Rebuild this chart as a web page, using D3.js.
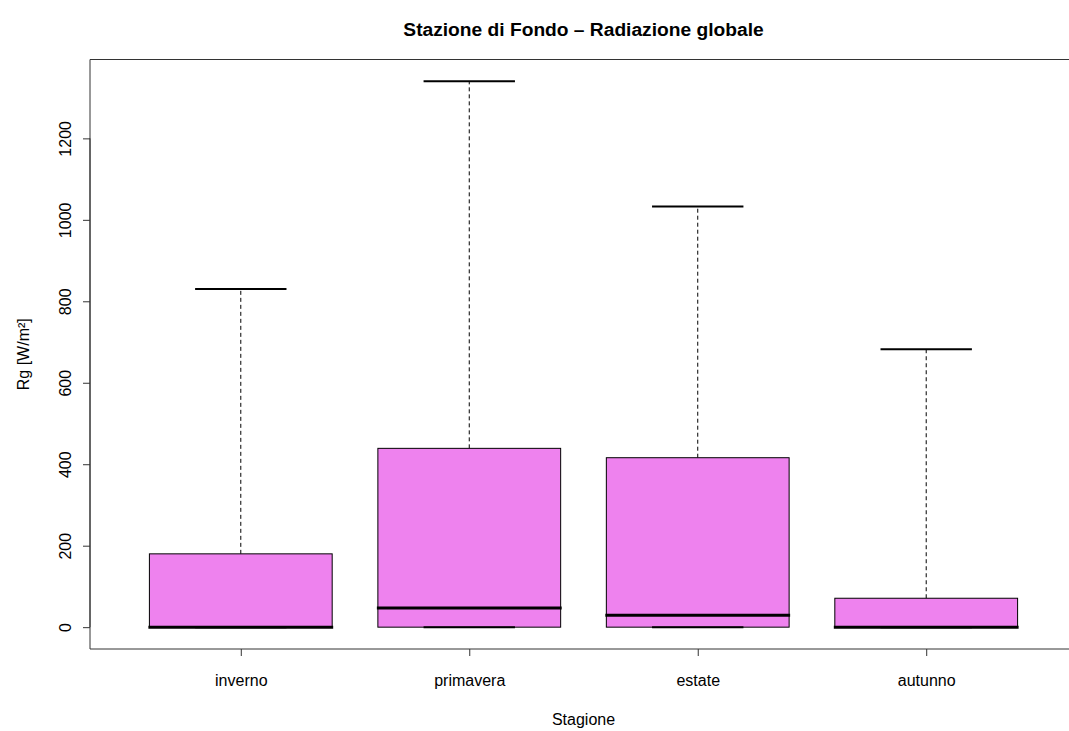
<!DOCTYPE html>
<html><head><meta charset="utf-8">
<script src="https://cdn.jsdelivr.net/npm/d3@7"></script>
<style>body{margin:0;background:#fff}svg{display:block;font-family:"Liberation Sans",Arial,sans-serif}</style>
</head><body>
<svg id="c" width="1069" height="731"></svg>
<script>
const categories = ["inverno","primavera","estate","autunno"];
const whiskerLow = [0, 0, 0, 0];
const q1 = [0, 0, 0, 0];
const medians = [0, 47, 29, 0];
const q3 = [180, 439, 416, 71];
const whiskerHigh = [830, 1340, 1033, 682];
const yTicks = [0, 200, 400, 600, 800, 1000, 1200];

const svg = d3.select("#c");
const L = 90, R = 1077, T = 59.5, B = 649;
const n = categories.length;
const x = d3.scaleLinear().domain([0.5 - 0.16, n + 0.5 + 0.16]).range([L, R]);
const dmax = d3.max(whiskerHigh), dmin = d3.min(whiskerLow);
const ext = (dmax - dmin) * 0.04;
const y = d3.scaleLinear().domain([dmin - ext, dmax + ext]).range([B, T]);
const unit = x(2) - x(1);
const bw = 0.8 * unit;

const data = categories.map((c, i) => ({c, i: i + 1, lo: whiskerLow[i], q1: q1[i], med: medians[i], q3: q3[i], hi: whiskerHigh[i]}));

const g = svg.append("g");
data.forEach(d => {
  const cx = x(d.i);
  g.append("line").attr("x1", cx).attr("x2", cx).attr("y1", y(d.q3)).attr("y2", y(d.hi))
    .attr("stroke", "#000").attr("stroke-dasharray", "4,3").attr("stroke-width", 1);
  g.append("line").attr("x1", cx).attr("x2", cx).attr("y1", y(d.q1)).attr("y2", y(d.lo))
    .attr("stroke", "#000").attr("stroke-dasharray", "4,3").attr("stroke-width", 1);
  g.append("line").attr("x1", cx - bw / 4).attr("x2", cx + bw / 4).attr("y1", y(d.hi)).attr("y2", y(d.hi))
    .attr("stroke", "#000").attr("stroke-width", 2);
  g.append("rect").attr("x", cx - bw / 2).attr("width", bw).attr("y", y(d.q3)).attr("height", Math.max(0, y(d.q1) - y(d.q3)))
    .attr("fill", "violet").attr("stroke", "#000").attr("stroke-width", 1);
  g.append("line").attr("x1", cx - bw / 4).attr("x2", cx + bw / 4).attr("y1", y(d.lo)).attr("y2", y(d.lo))
    .attr("stroke", "#000").attr("stroke-width", 2);
  g.append("line").attr("x1", cx - bw / 2 - 1).attr("x2", cx + bw / 2 + 1).attr("y1", y(d.med)).attr("y2", y(d.med))
    .attr("stroke", "#000").attr("stroke-width", 3);
});

svg.append("path").attr("d", `M${R},${T}H${L}V${B}H${R}`).attr("fill", "none").attr("stroke", "#333").attr("stroke-width", 1);

const ya = svg.append("g").attr("transform", `translate(${L},0)`)
  .call(d3.axisLeft(y).tickValues(yTicks).tickSize(7).tickPadding(0).tickFormat(d3.format("d")));
ya.select(".domain").attr("stroke", "#333").attr("d", `M0,${y(yTicks[0])}V${y(yTicks[yTicks.length-1])}`);
ya.selectAll(".tick line").attr("stroke", "#333");
ya.selectAll(".tick text").attr("font-size", 16).attr("fill", "#000").attr("font-family", "Liberation Sans, Arial, sans-serif")
  .attr("text-anchor", "middle").attr("x", 0).attr("y", 0).attr("dy", 0)
  .attr("transform", "translate(-19,0) rotate(-90)");

const xa = svg.append("g").attr("transform", `translate(0,${B})`)
  .call(d3.axisBottom(x).tickValues(data.map(d => d.i)).tickSize(7).tickPadding(0).tickFormat((d, i) => categories[i]));
xa.select(".domain").remove();
xa.selectAll(".tick line").attr("stroke", "#333");
xa.selectAll(".tick text").attr("font-size", 16).attr("fill", "#000").attr("font-family", "Liberation Sans, Arial, sans-serif")
  .attr("y", 37).attr("dy", 0);

svg.append("text").attr("x", (L + R) / 2).attr("y", 36).attr("text-anchor", "middle")
  .attr("font-size", 19.2).attr("font-weight", "bold").text("Stazione di Fondo \u2013 Radiazione globale");
svg.append("text").attr("x", (L + R) / 2).attr("y", 725).attr("text-anchor", "middle")
  .attr("font-size", 16).text("Stagione");
svg.append("text").attr("transform", `translate(29,${(T + B) / 2}) rotate(-90)`).attr("text-anchor", "middle")
  .attr("font-size", 16).text("Rg [W/m²]");
</script>
</body></html>
